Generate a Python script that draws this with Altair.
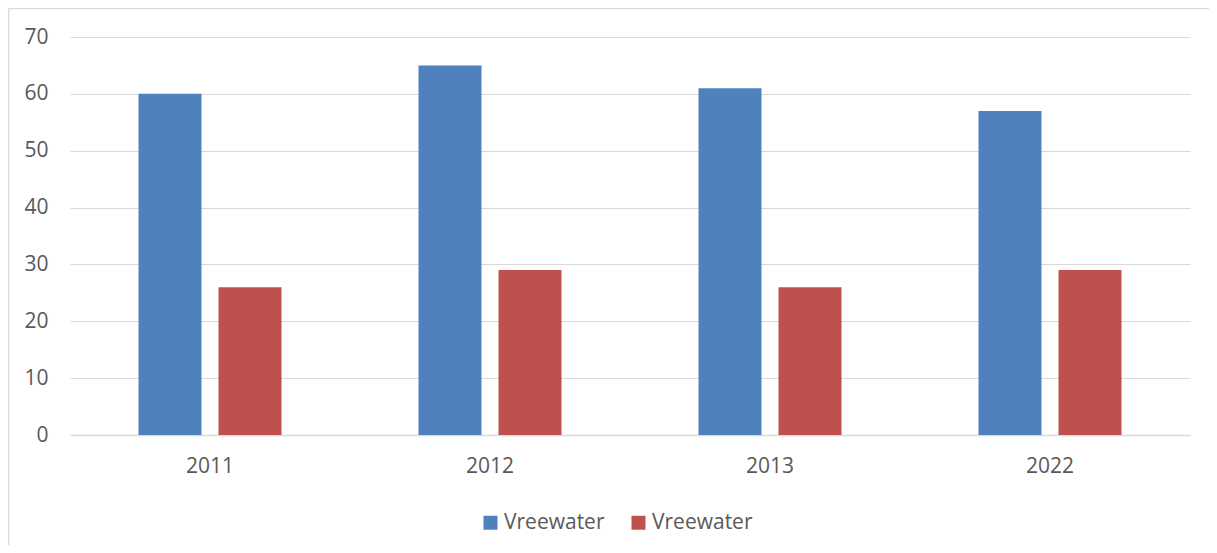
import altair as alt
import pandas as pd

years = ["2011", "2012", "2013", "2022"]
series_a = [60, 65, 61, 57]
series_b = [26, 29, 26, 29]
series_keys = ["a", "b"]
series_labels = ["Vreewater", "Vreewater"]
colors = ["#4f81bd", "#c0504d"]

rows = []
for i, y in enumerate(years):
    rows.append({"year": y, "series": "a", "value": series_a[i]})
    rows.append({"year": y, "series": "b", "value": series_b[i]})
df = pd.DataFrame(rows)

FONT = "Open Sans"
GRAY = "#595959"
GRID = "#d9d9d9"
FS = 21

bars = alt.Chart(df).mark_bar().encode(
    x=alt.X("year:N", sort=years,
            scale=alt.Scale(paddingInner=0, paddingOuter=0),
            axis=alt.Axis(title=None, labelAngle=0, ticks=False, domain=True,
                          domainColor=GRID, domainWidth=1.5, labelFontSize=FS,
                          labelColor=GRAY, labelFont=FONT, labelPadding=20, grid=False)),
    xOffset=alt.XOffset("series:N", sort=series_keys,
                        scale=alt.Scale(paddingInner=0.2125, paddingOuter=0.85625)),
    y=alt.Y("value:Q", scale=alt.Scale(domain=[0, 70], nice=False),
            axis=alt.Axis(title=None, values=[0, 10, 20, 30, 40, 50, 60, 70],
                          ticks=False, domain=False, grid=True, gridColor=GRID,
                          gridWidth=1, labelFontSize=FS, labelColor=GRAY,
                          labelFont=FONT, labelPadding=22)),
    color=alt.Color("series:N",
                    scale=alt.Scale(domain=series_keys, range=colors),
                    legend=alt.Legend(title=None, orient="none", legendX=410, legendY=475,
                                      direction="horizontal", symbolType="square",
                                      symbolSize=196, symbolStrokeWidth=0,
                                      labelFontSize=FS, labelColor=GRAY, labelFont=FONT,
                                      labelExpr="datum.value == 'a' ? '%s' : '%s'" % (series_labels[0], series_labels[1]),
                                      columnPadding=23, labelOffset=3, padding=0)),
)

frame = pd.DataFrame({"k": [0]})
left_line = alt.Chart(frame).mark_rule(color=GRID, strokeWidth=1.5).encode(
    x=alt.value(-61.5), y=alt.value(-28.5), y2=alt.value(600)
)
top_line = alt.Chart(frame).mark_rule(color=GRID, strokeWidth=1.5).encode(
    x=alt.value(-61.5), x2=alt.value(1300), y=alt.value(-28.5)
)

chart = alt.layer(left_line, top_line, bars).properties(
    width=1120, height=398,
    autosize=alt.AutoSizeParams(type="none"),
    padding={"left": 62, "top": 29, "right": 19, "bottom": 110},
    background="white",
).configure_view(stroke=None)

chart.save("out.html", embed_options={"renderer": "svg", "actions": False})
